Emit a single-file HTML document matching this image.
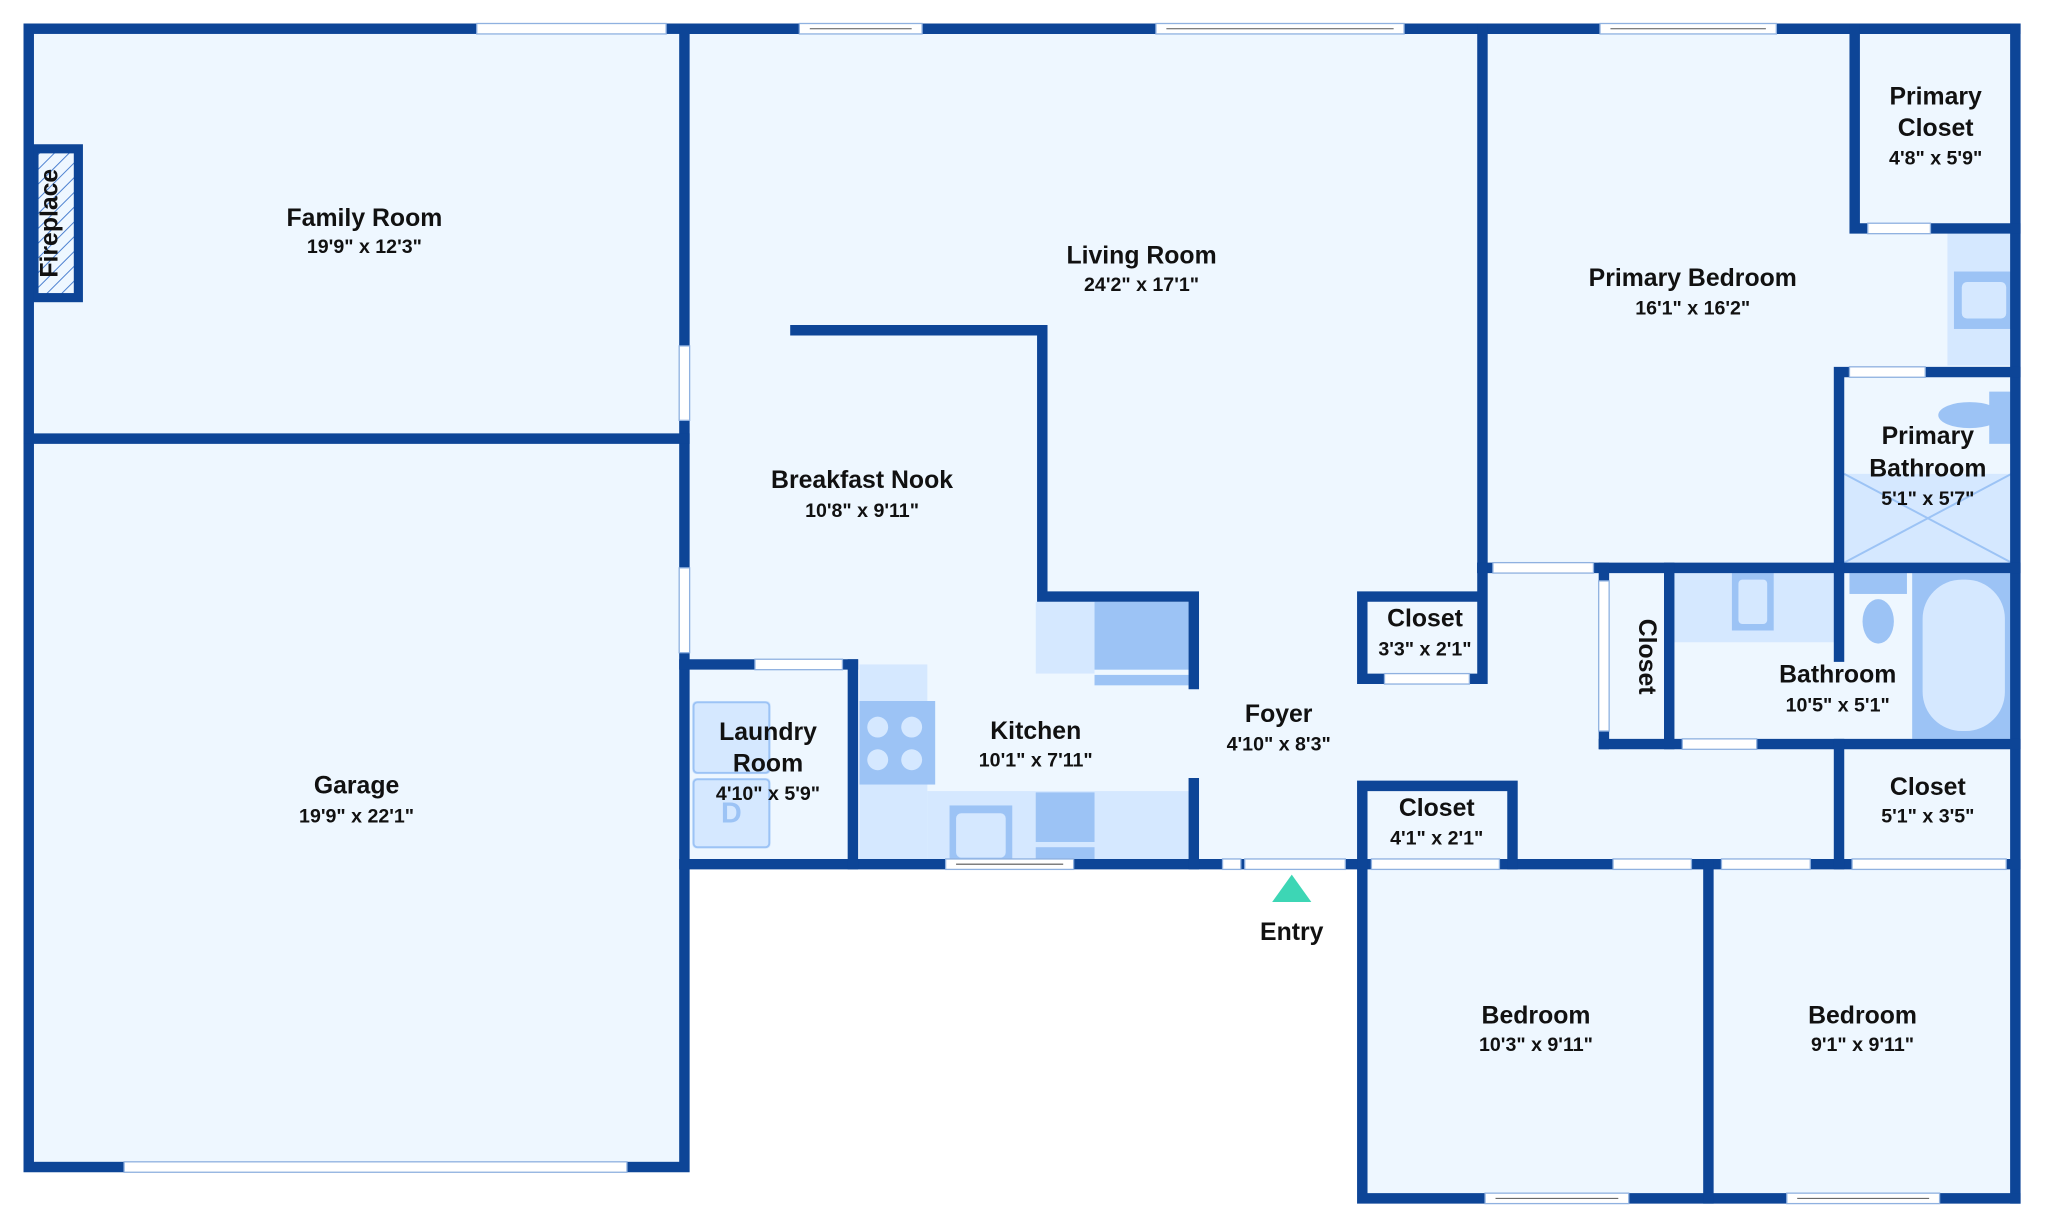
<!DOCTYPE html>
<html><head><meta charset="utf-8"><style>
html,body{margin:0;padding:0;background:#fff}
svg{display:block}
text{font-family:"Liberation Sans","DejaVu Sans",sans-serif;fill:#111;text-anchor:middle}
.n{font-weight:bold;font-size:19px}
.d{font-weight:bold;font-size:15px}
</style></head><body>
<svg width="2048" height="1231" viewBox="0 0 1568 943" preserveAspectRatio="none" xmlns="http://www.w3.org/2000/svg">
<defs>
<pattern id="h" width="8" height="8" patternUnits="userSpaceOnUse" patternTransform="rotate(45)">
<rect width="8" height="8" fill="#eef7ff"/><line x1="0" y1="0" x2="0" y2="8" stroke="#4a7fd0" stroke-width="1.5"/>
</pattern>
</defs>
<!-- floors -->
<rect x="22" y="22" width="502" height="872" fill="#eef7ff"/>
<rect x="524" y="22" width="1019" height="640" fill="#eef7ff"/>
<rect x="1043" y="662" width="500" height="256" fill="#eef7ff"/>
<!-- fixtures -->
<g fill="#d5e8ff">
<rect x="793" y="461" width="45" height="55"/>
<rect x="658" y="509" width="52" height="152"/>
<rect x="710" y="606" width="200" height="55"/>
<rect x="1491" y="178" width="48" height="102"/>
<rect x="1412" y="363" width="128" height="68"/>
<rect x="1282" y="439" width="124" height="53"/>
<rect x="1467" y="439" width="73" height="127"/>
<rect x="530" y="537" width="60" height="56" rx="3"/>
<rect x="530" y="596" width="60" height="54" rx="3"/>
</g>
<g fill="#9cc3f5">
<rect x="838" y="461" width="72" height="52"/>
<rect x="838" y="517" width="72" height="8"/>
<rect x="658" y="537" width="58" height="64"/>
<rect x="793" y="607" width="45" height="38"/>
<rect x="793" y="649" width="45" height="12"/>
<rect x="727" y="617" width="48" height="44"/>
<rect x="1496" y="208" width="44" height="44"/>
<rect x="1523" y="300" width="17" height="40"/>
<ellipse cx="1508" cy="318" rx="24" ry="10"/>
<rect x="1416" y="439" width="44" height="16"/>
<ellipse cx="1438" cy="476" rx="12" ry="17"/>
<rect x="1326" y="439" width="32" height="44"/>
<rect x="1464" y="439" width="76" height="127"/>
</g>
<g fill="#d5e8ff">
<rect x="1502" y="216" width="34" height="28" rx="4"/>
<rect x="1331" y="444" width="22" height="34" rx="3"/>
<rect x="1472" y="444" width="63" height="116" rx="30"/>
<rect x="732" y="623" width="38" height="34" rx="4"/>
<circle cx="672" cy="557" r="8"/><circle cx="698" cy="557" r="8"/>
<circle cx="672" cy="582" r="8"/><circle cx="698" cy="582" r="8"/>
</g>
<g stroke="#9cc3f5" stroke-width="1.5" fill="none">
<line x1="1412" y1="363" x2="1540" y2="431"/><line x1="1540" y1="363" x2="1412" y2="431"/>
<rect x="531" y="538" width="58" height="54" rx="3"/><rect x="531" y="597" width="58" height="52" rx="3"/>
</g>
<text x="560" y="630" style="font-weight:bold;font-size:22px;fill:#9cc3f5">D</text>
<!-- fireplace -->
<rect x="26" y="114" width="34" height="114" fill="url(#h)" stroke="#0d4597" stroke-width="7"/>
<!-- walls -->
<g stroke="#0d4597" stroke-width="8" stroke-linecap="square" fill="none">
<rect x="22" y="22" width="502" height="872"/>
<line x1="22" y1="336" x2="524" y2="336"/>
<line x1="524" y1="22" x2="1543" y2="22"/>
<line x1="1543" y1="22" x2="1543" y2="918"/>
<line x1="524" y1="662" x2="1543" y2="662"/>
<polyline points="1043,662 1043,918 1543,918"/>
<line x1="1308" y1="662" x2="1308" y2="918"/>
<line x1="1135" y1="22" x2="1135" y2="435"/>
<line x1="1135" y1="435" x2="1543" y2="435"/>
<polyline points="1420,22 1420,175 1543,175"/>
<polyline points="1408,435 1408,285 1543,285"/>
<line x1="1228" y1="435" x2="1228" y2="570"/>
<line x1="1278" y1="435" x2="1278" y2="570"/>
<line x1="1228" y1="570" x2="1543" y2="570"/>
<line x1="1408" y1="435" x2="1408" y2="503"/>
<line x1="1408" y1="570" x2="1408" y2="662"/>
<polyline points="1135,435 1135,520 1043,520 1043,457 1135,457"/>
<polyline points="1043,662 1043,602 1158,602 1158,662"/>
<polyline points="609,253 798,253 798,457 914,457 914,524"/>
<line x1="914" y1="600" x2="914" y2="662"/>
<line x1="524" y1="509" x2="653" y2="509"/>
<line x1="653" y1="509" x2="653" y2="662"/>
</g>
<!-- openings / windows -->
<g fill="#fff" stroke="#8fb1e0" stroke-width="1">
<rect x="365" y="18" width="145" height="8"/>
<rect x="612" y="18" width="94" height="8"/>
<rect x="885" y="18" width="190" height="8"/>
<rect x="1225" y="18" width="135" height="8"/>
<rect x="95" y="890" width="385" height="8"/>
<rect x="724" y="658" width="98" height="8"/>
<rect x="1137" y="914" width="110" height="8"/>
<rect x="1368" y="914" width="117" height="8"/>
<rect x="520" y="265" width="8" height="57"/>
<rect x="520" y="435" width="8" height="65"/>
<rect x="578" y="505" width="67" height="8"/>
<rect x="953" y="658" width="77" height="8"/>
<rect x="1050" y="658" width="98" height="8"/>
<rect x="1235" y="658" width="60" height="8"/>
<rect x="1318" y="658" width="68" height="8"/>
<rect x="1418" y="658" width="118" height="8"/>
<rect x="1060" y="516" width="65" height="8"/>
<rect x="1143" y="431" width="77" height="8"/>
<rect x="1430" y="171" width="48" height="8"/>
<rect x="1416" y="281" width="58" height="8"/>
<rect x="1288" y="566" width="57" height="8"/>
<rect x="1224" y="445" width="8" height="115"/>
<rect x="936" y="658" width="14" height="8"/>
</g>
<g stroke="#555" stroke-width="0.8">
<line x1="620" y1="22" x2="698" y2="22"/><line x1="893" y1="22" x2="1067" y2="22"/>
<line x1="1233" y1="22" x2="1352" y2="22"/><line x1="732" y1="662" x2="814" y2="662"/>
<line x1="1145" y1="918" x2="1239" y2="918"/><line x1="1376" y1="918" x2="1477" y2="918"/>
</g>
<polygon points="989,670 1004,691 974,691" fill="#3dd6b5"/>
<!-- labels -->
<text class="n" x="279" y="173">Family Room</text><text class="d" x="279" y="194">19'9" x 12'3"</text>
<text class="n" x="874" y="202">Living Room</text><text class="d" x="874" y="223">24'2" x 17'1"</text>
<text class="n" x="1296" y="219">Primary Bedroom</text><text class="d" x="1296" y="241">16'1" x 16'2"</text>
<text class="n" x="1482" y="80">Primary</text><text class="n" x="1482" y="104">Closet</text><text class="d" x="1482" y="126">4'8" x 5'9"</text>
<text class="n" x="1476" y="340">Primary</text><text class="n" x="1476" y="365">Bathroom</text><text class="d" x="1476" y="387">5'1" x 5'7"</text>
<text class="n" x="660" y="374">Breakfast Nook</text><text class="d" x="660" y="396">10'8" x 9'11"</text>
<text class="n" x="1091" y="480">Closet</text><text class="d" x="1091" y="502">3'3" x 2'1"</text>
<text class="n" x="1407" y="523">Bathroom</text><text class="d" x="1407" y="545">10'5" x 5'1"</text>
<text class="n" x="793" y="566">Kitchen</text><text class="d" x="793" y="587">10'1" x 7'11"</text>
<text class="n" x="588" y="567">Laundry</text><text class="n" x="588" y="591">Room</text><text class="d" x="588" y="613">4'10" x 5'9"</text>
<text class="n" x="979" y="553">Foyer</text><text class="d" x="979" y="575">4'10" x 8'3"</text>
<text class="n" x="273" y="608">Garage</text><text class="d" x="273" y="630">19'9" x 22'1"</text>
<text class="n" x="1100" y="625">Closet</text><text class="d" x="1100" y="647">4'1" x 2'1"</text>
<text class="n" x="1476" y="609">Closet</text><text class="d" x="1476" y="630">5'1" x 3'5"</text>
<text class="n" x="989" y="720">Entry</text>
<text class="n" x="1176" y="784">Bedroom</text><text class="d" x="1176" y="805">10'3" x 9'11"</text>
<text class="n" x="1426" y="784">Bedroom</text><text class="d" x="1426" y="805">9'1" x 9'11"</text>
<text class="n" transform="translate(1255,503) rotate(90)">Closet</text>
<text class="n" transform="translate(44,171) rotate(-90)">Fireplace</text>
</svg>
</body></html>
